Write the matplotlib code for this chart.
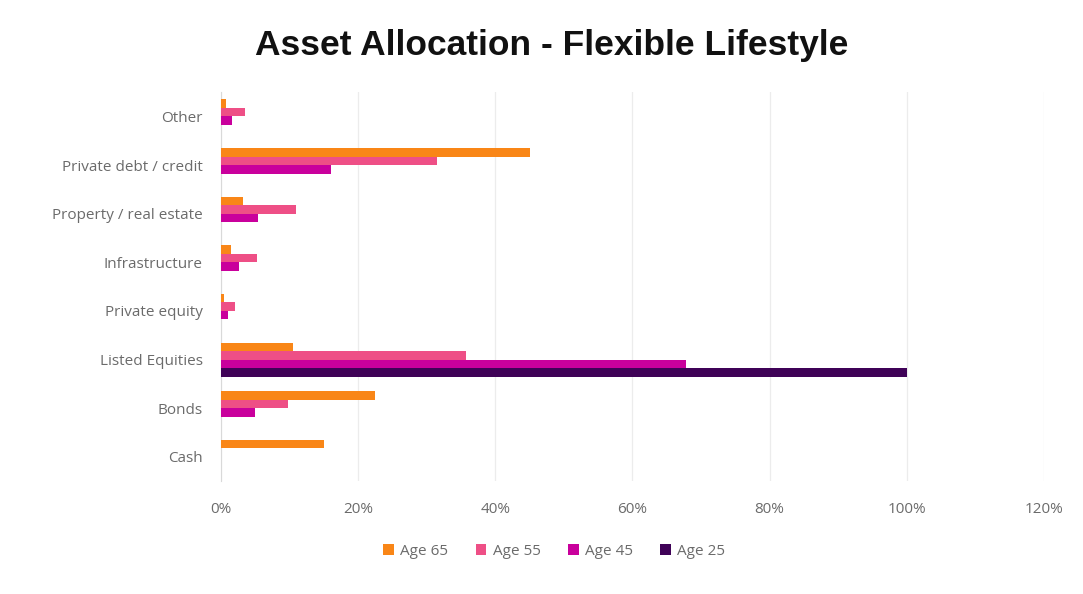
import matplotlib.pyplot as plt
import numpy as np
from matplotlib.ticker import FuncFormatter

plt.rcParams["font.family"] = ["Open Sans", "DejaVu Sans"]

categories = [
    "Cash",
    "Bonds",
    "Listed Equities",
    "Private equity",
    "Infrastructure",
    "Property / real estate",
    "Private debt / credit",
    "Other",
]
series_names = ["Age 65", "Age 55", "Age 45", "Age 25"]

# allocation shares (fraction of portfolio), same order as categories
age_65 = [0.15, 0.225, 0.105, 0.005, 0.015, 0.032, 0.45, 0.008]
age_55 = [0.0, 0.098, 0.357, 0.02, 0.053, 0.11, 0.315, 0.035]
age_45 = [0.0, 0.05, 0.678, 0.01, 0.027, 0.054, 0.16, 0.016]
age_25 = [0.0, 0.0, 1.0, 0.0, 0.0, 0.0, 0.0, 0.0]

colors = ["#F98617", "#EE4F86", "#C9009C", "#3F0257"]

fig = plt.figure(figsize=(10.83, 5.94), dpi=100)
ax = fig.add_axes([0.204, 0.19, 0.76, 0.655])

y = np.arange(len(categories))
h = 0.175
for k, (name, vals, col) in enumerate(zip(series_names, [age_65, age_55, age_45, age_25], colors)):
    # Age 65 sits on top of each group, Age 25 at the bottom
    offset = (1.5 - k) * h
    ax.barh(y + offset, vals, height=h, color=col, label=name, zorder=3)

ax.set_xlim(0, 1.2)
ax.set_ylim(-0.5, len(categories) - 0.5)
ax.set_xticks(np.arange(0, 1.21, 0.2))
ax.xaxis.set_major_formatter(FuncFormatter(lambda v, _: f"{v * 100:.0f}%"))
ax.set_yticks(y)
ax.set_yticklabels(categories)

ax.grid(axis="x", color="#ececec", lw=0.9, zorder=0)
for side in ["top", "right", "bottom"]:
    ax.spines[side].set_visible(False)
ax.spines["left"].set_color("#d9d9d9")
ax.tick_params(axis="both", length=0, labelsize=11, labelcolor="#6b6b6b")
ax.tick_params(axis="x", pad=15)
ax.tick_params(axis="y", pad=13)

fig.text(0.509, 0.924, "Asset Allocation - Flexible Lifestyle", ha="center", va="center",
         fontsize=25.5, fontweight="bold", family=["Liberation Sans", "DejaVu Sans"], color="#111111")

ax.legend(loc="upper center", bbox_to_anchor=(0.405, -0.125), ncol=4, frameon=False,
          fontsize=11, labelcolor="#6b6b6b", handlelength=0.7, handleheight=0.7,
          handletextpad=0.4, columnspacing=1.8)

fig.savefig("out.png", dpi=100)
